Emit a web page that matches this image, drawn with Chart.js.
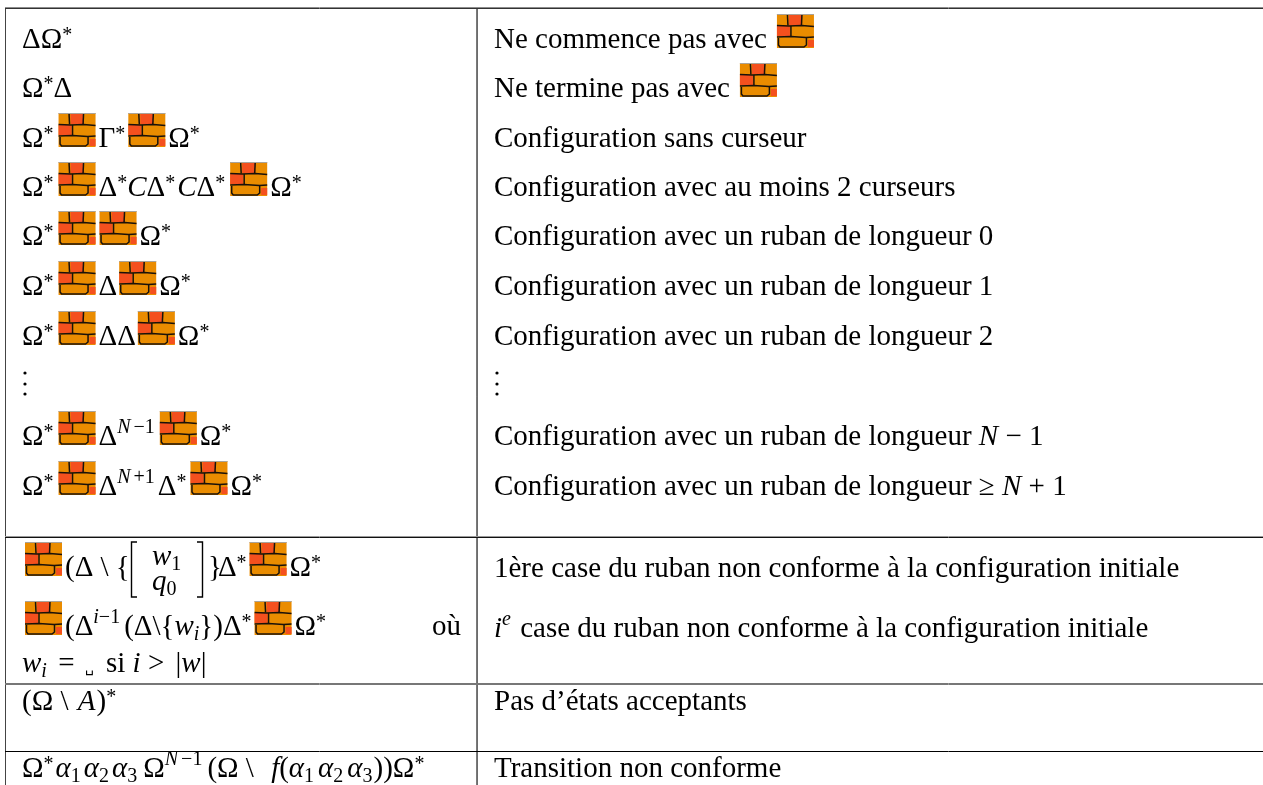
<!DOCTYPE html>
<html>
<head>
<meta charset="utf-8">
<style>
  html, body { margin: 0; padding: 0; background: #fff; overflow: hidden; }
  #wrap { position: relative; width: 1263px; height: 785px; }
</style>
<script src="https://cdn.jsdelivr.net/npm/chart.js@4/dist/chart.umd.min.js"></script>
</head>
<body>
<div id="wrap"><canvas id="tableChart"></canvas></div>
<script>
// rule positions
const ruleRows = [7.5, 8.5, 536.5, 537.5, 683.5, 684.5, 751.5];
const ruleRowColors = ["#8c8c8c", "#333333", "#999999", "#111111", "#777777", "#777777", "#000000"];
const ruleColumns = [5.5, 477, 477.5];
const ruleColumnColors = ["#444444", "#666666", "#999999"];

// tokens: "#" brick, "^" sup, "_" sub, "/" italic, "~" small glyph, numbers are a small gap
const leftColumn = [
  ["ΔΩ", "^*"],
  ["Ω", "^*", "Δ"],
  ["Ω", "^*", 5, "#", 3, "Γ", "^*", 3, "#", 3, "Ω", "^*"],
  ["Ω", "^*", 5, "#", 3, "Δ", "^*", "/C", "Δ", "^*", 2, "/C", "Δ", "^*", 5, "#", 3, "Ω", "^*"],
  ["Ω", "^*", 5, "#", 4, "#", 3, "Ω", "^*"],
  ["Ω", "^*", 5, "#", 3, "Δ", 2, "#", 3, "Ω", "^*"],
  ["Ω", "^*", 5, "#", 3, "ΔΔ", 2, "#", 3, "Ω", "^*"],
  [],
  ["Ω", "^*", 5, "#", 3, "Δ", "^/N", 3, "^−1", 5, "#", 3, "Ω", "^*"],
  ["Ω", "^*", 5, "#", 3, "Δ", "^/N", 3, "^+1", 3, "Δ", "^*", 4, "#", 3, "Ω", "^*"],
  [],
  ["(Ω \\ ", 2, "/A", 1, ")", "^*"],
  ["Ω", "^*", 2, "/α", "_1", 3, "/α", "_2", 3, "/α", "_3", 6, "Ω", "^/N", 3, "^−1", 5, "(Ω \\ ", 10, "/f", "(", "/α", "_1", 4, "/α", "_2", 4, "/α", "_3", 1, "))Ω", "^*"]
];
const leftBaselines = [48, 97, 147, 196, 245, 295, 345, 0, 445, 495, 0, 710, 777];

const rightColumn = [
  ["Ne commence pas avec", 10, "#"],
  ["Ne termine pas avec", 10, "#"],
  ["Configuration sans curseur"],
  ["Configuration avec au moins 2 curseurs"],
  ["Configuration avec un ruban de longueur 0"],
  ["Configuration avec un ruban de longueur 1"],
  ["Configuration avec un ruban de longueur 2"],
  [],
  ["Configuration avec un ruban de longueur ", "/N", " − 1"],
  ["Configuration avec un ruban de longueur ≥ ", "/N", " + 1"],
  ["1ère case du ruban non conforme à la configuration initiale"],
  ["/i", "^/e", 2, " case du ruban non conforme à la configuration initiale"],
  ["Pas d’états acceptants"],
  ["Transition non conforme"]
];
const rightBaselines = [48, 97, 147, 196, 245, 295, 345, 0, 445, 495, 577, 637, 710, 777];

// rows of the lower block that do not follow the two column pattern
const bracketRow = ["#", 3, "(Δ \\ {"];
const bracketTail = ["}", -4, "Δ", "^*", 3, "#", 3, "Ω", "^*"];
const wiRow = ["#", 3, "(Δ", "^/i", "^−1", 4, "(Δ\\{", "/w", "_/i", "})Δ", "^*", 3, "#", 3, "Ω", "^*"];
const wiSecond = ["/w", "_/i", 4, " = ", 3, "~␣", 5, " si ", "/i", " > ", 4, "|", "/w", "|"];
const dotRows = [373, 384, 394];

const SERIF = '"Liberation Serif", serif';
const SIZE = 29;
const SMALL = 20;

function setFont(ctx, size, italic) {
  ctx.font = (italic ? "italic " : "") + size + "px " + SERIF;
}

function drawBrick(ctx, x, base) {
  const w = 37, h = 34, top = base - h;
  const pathOf = pts => {
    ctx.beginPath();
    pts.forEach((p, i) => {
      if (i === 0) ctx.moveTo(x + p[0], top + p[1]);
      else ctx.lineTo(x + p[0], top + p[1]);
    });
    ctx.stroke();
  };
  ctx.save();
  ctx.fillStyle = "#ea8c00";
  ctx.fillRect(x, top, w, h);
  ctx.fillStyle = "#f4501e";
  ctx.fillRect(x + 12, top + 1, 13, 10);
  ctx.fillRect(x, top + 12, 13, 10);
  ctx.fillRect(x + 31, top + 26, 6, 7);
  ctx.strokeStyle = "#1a120a";
  ctx.lineWidth = 1.5;
  pathOf([[0, 11.5], [12, 12], [25, 11.5], [37, 12.5]]);
  pathOf([[10.5, 1], [11, 11.5]]);
  pathOf([[25, 1], [24.5, 11.5]]);
  pathOf([[14, 12], [14, 22.5]]);
  pathOf([[0, 23], [14, 22.5], [29, 23.5], [37, 23]]);
  pathOf([[1.5, 24], [1.5, 31], [3, 33], [27, 33], [29.5, 31], [29.5, 24]]);
  ctx.strokeStyle = "#a9a39a";
  ctx.lineWidth = 1;
  pathOf([[0, 0.5], [37, 0.5]]);
  ctx.restore();
}

// walks a token list, draws it and gives back the x where it stopped
function drawTokens(ctx, tokens, x, base) {
  tokens.forEach(token => {
    if (typeof token === "number") {
      x += token;
      return;
    }
    if (token === "#") {
      drawBrick(ctx, x, base);
      x += 37;
      return;
    }
    let text = token;
    let size = SIZE;
    let y = base;
    if (text === "^*") {
      // the star sits lower than the other exponents
      text = "*";
      size = SMALL;
      y = base - 7;
    } else if (text[0] === "^") {
      text = text.slice(1);
      size = SMALL;
      y = base - 12;
    } else if (text[0] === "_") {
      text = text.slice(1);
      size = SMALL;
      y = base + 5;
    } else if (text[0] === "~") {
      text = text.slice(1);
      size = 14;
    }
    let italic = false;
    if (text[0] === "/") {
      text = text.slice(1);
      italic = true;
    }
    setFont(ctx, size, italic);
    ctx.fillText(text, x, y);
    x += ctx.measureText(text).width;
  });
  return x;
}

const tablePlugin = {
  id: "tableText",
  afterDatasetsDraw(chart) {
    const ctx = chart.ctx;
    const sx = chart.scales.x;
    const sy = chart.scales.y;
    ctx.save();
    ctx.fillStyle = "#000";
    ctx.textBaseline = "alphabetic";

    leftColumn.forEach((tokens, i) => {
      drawTokens(ctx, tokens, sx.getPixelForValue(22), sy.getPixelForValue(leftBaselines[i]));
    });
    rightColumn.forEach((tokens, i) => {
      drawTokens(ctx, tokens, sx.getPixelForValue(494), sy.getPixelForValue(rightBaselines[i]));
    });

    // vertical dots
    dotRows.forEach(v => {
      [25, 497].forEach(col => {
        ctx.beginPath();
        ctx.arc(sx.getPixelForValue(col), sy.getPixelForValue(v), 1.6, 0, Math.PI * 2);
        ctx.fill();
      });
    });

    // row with the bracket
    const base = sy.getPixelForValue(576);
    drawTokens(ctx, bracketRow, sx.getPixelForValue(25), base);
    ctx.strokeStyle = "#000";
    ctx.lineWidth = 1.4;
    ctx.beginPath();
    ctx.moveTo(137, 542); ctx.lineTo(131.5, 542); ctx.lineTo(131.5, 597); ctx.lineTo(137, 597);
    ctx.moveTo(197, 542); ctx.lineTo(202.5, 542); ctx.lineTo(202.5, 597); ctx.lineTo(197, 597);
    ctx.stroke();
    drawTokens(ctx, ["/w", "_1"], 152, 565);
    drawTokens(ctx, ["/q", "_0"], 152, 590);
    drawTokens(ctx, bracketTail, 208, base);

    drawTokens(ctx, wiRow, sx.getPixelForValue(25), sy.getPixelForValue(635));
    setFont(ctx, SIZE, false);
    ctx.fillText("où", sx.getPixelForValue(432), sy.getPixelForValue(635));
    drawTokens(ctx, wiSecond, sx.getPixelForValue(22), sy.getPixelForValue(672));
    ctx.restore();
  }
};

function ruleDataset(points, color) {
  return {
    data: points,
    borderColor: color,
    borderWidth: 1,
    pointRadius: 0,
    showLine: true
  };
}

const datasets = [];
ruleRows.forEach((y, i) => {
  datasets.push(ruleDataset([{ x: ruleColumns[0] - 0.5, y }, { x: 1263, y }], ruleRowColors[i]));
});
ruleColumns.forEach((x, i) => {
  datasets.push(ruleDataset([{ x, y: ruleRows[0] }, { x, y: 785 }], ruleColumnColors[i]));
});

new Chart(document.getElementById("tableChart"), {
  type: "scatter",
  data: { datasets },
  options: {
    responsive: true,
    maintainAspectRatio: false,
    animation: false,
    layout: { padding: 0 },
    plugins: { legend: { display: false }, tooltip: { enabled: false } },
    scales: {
      x: { type: "linear", min: 0, max: 1263, display: false },
      y: { type: "linear", min: 0, max: 785, reverse: true, display: false }
    }
  },
  plugins: [tablePlugin]
});
</script>
</body>
</html>
